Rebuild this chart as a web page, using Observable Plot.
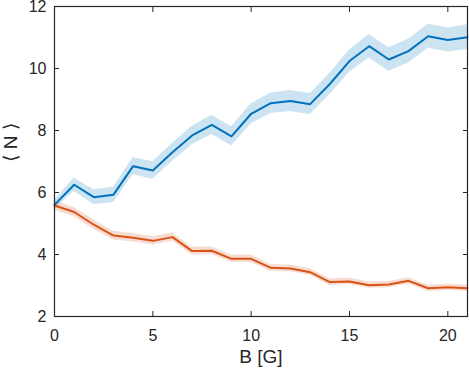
<!DOCTYPE html>
<html>
<head>
<meta charset="utf-8">
<script src="https://cdn.jsdelivr.net/npm/d3@7"></script>
<script src="https://cdn.jsdelivr.net/npm/@observablehq/plot@0.6"></script>
<style>
  html, body { margin: 0; padding: 0; background: #fff; }
  svg { display: block; }
</style>
</head>
<body>
<div id="chart"></div>
<script>
const B = [0,1,2,3,4,5,6,7,8,9,10,11,12,13,14,15,16,17,18,19,20,21];
const blueMean = [5.60,6.25,5.85,5.93,6.85,6.71,7.30,7.84,8.18,7.81,8.54,8.88,8.95,8.85,9.50,10.24,10.72,10.29,10.56,11.04,10.92,11.01];
const blueErr  = [0.15,0.22,0.24,0.25,0.28,0.28,0.29,0.30,0.31,0.31,0.32,0.33,0.34,0.34,0.35,0.36,0.38,0.38,0.38,0.39,0.39,0.40];
const orangeMean = [5.58,5.37,4.96,4.61,4.54,4.44,4.56,4.11,4.12,3.86,3.86,3.57,3.55,3.43,3.11,3.13,3.01,3.03,3.15,2.91,2.94,2.91];
const orangeErr  = [0.15,0.15,0.15,0.14,0.14,0.13,0.13,0.13,0.12,0.12,0.12,0.11,0.11,0.11,0.11,0.10,0.10,0.10,0.10,0.10,0.10,0.10];
const xTicks = [0,5,10,15,20];
const yTicks = [2,4,6,8,10,12];
const xLabel = "B [G]";
const yLabel = "\u27E8 N \u27E9";

const blue = B.map((b,i) => ({b, m: blueMean[i], lo: blueMean[i]-blueErr[i], hi: blueMean[i]+blueErr[i]}));
const orange = B.map((b,i) => ({b, m: orangeMean[i], lo: orangeMean[i]-orangeErr[i], hi: orangeMean[i]+orangeErr[i]}));

const axisColor = "#262626";
const chart = Plot.plot({
  width: 469,
  height: 376,
  marginLeft: 54,
  marginRight: 2,
  marginTop: 6,
  marginBottom: 60,
  style: {fontFamily: "'Liberation Sans', Arial, Helvetica, sans-serif", fontSize: "16px", color: axisColor, background: "#fff"},
  x: {domain: [0,21]},
  y: {domain: [2,12]},
  marks: [
    Plot.areaY(blue, {x: "b", y1: "lo", y2: "hi", fill: "#0072BD", fillOpacity: 0.2}),
    Plot.areaY(orange, {x: "b", y1: "lo", y2: "hi", fill: "#D95319", fillOpacity: 0.2}),
    Plot.lineY(blue, {x: "b", y: "m", stroke: "#0072BD", strokeWidth: 2}),
    Plot.lineY(orange, {x: "b", y: "m", stroke: "#D95319", strokeWidth: 2}),
    Plot.axisX(xTicks, {anchor: "bottom", tickSize: -5, tickPadding: 18, label: null, stroke: axisColor, fill: axisColor, fontSize: 16}),
    Plot.axisX(xTicks, {anchor: "top", tickSize: -5, tickFormat: () => "", label: null, stroke: axisColor}),
    Plot.axisY(yTicks, {anchor: "left", tickSize: -5, tickPadding: 13, label: null, stroke: axisColor, fill: axisColor, fontSize: 16}),
    Plot.axisY(yTicks, {anchor: "right", tickSize: -5, tickFormat: () => "", label: null, stroke: axisColor}),
    Plot.frame({stroke: axisColor, strokeWidth: 1.2}),
    Plot.text([xLabel], {frameAnchor: "bottom", dy: 46, text: d => d, fontSize: 19, fill: axisColor}),
    Plot.text([yLabel], {frameAnchor: "left", dx: -44, rotate: -90, text: d => d, fontSize: 19, fill: axisColor})
  ]
});
document.getElementById("chart").appendChild(chart);
</script>
</body>
</html>
